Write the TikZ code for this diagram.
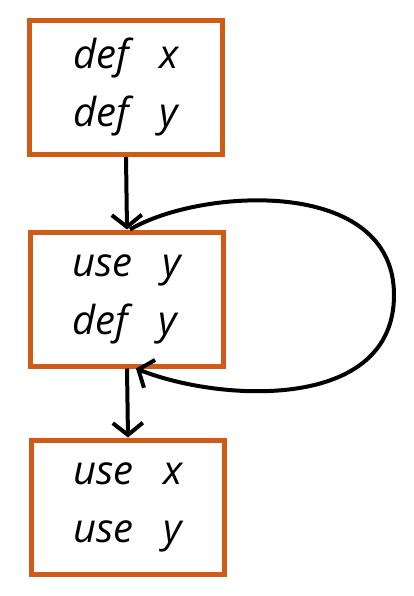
\documentclass[tikz,border=0pt]{standalone}
\usepackage{fontspec}
\setmainfont{Open Sans}
\usetikzlibrary{arrows.meta}
\definecolor{blockorange}{RGB}{206,92,22}
\tikzset{
  blockS/.style ={draw=blockorange, line width=5pt, fill=white, minimum width=193pt, minimum height=134pt,
                  align=left, inner sep=0pt, font=\fontsize{40}{58}\selectfont\itshape},
  edgeS/.style  ={draw=black, line width=4pt, -{Straight Barb[length=12pt,width=30pt,line width=4pt]}},
  loopS/.style  ={draw=black, line width=4pt},
}
\begin{document}
\begin{tikzpicture}[x=1pt,y=-1pt]
  \useasboundingbox (0,0) rectangle (414,596);
  \node[blockS] (defs) at (126,87.5) {def\hspace{0.75em}x\\def\hspace{0.75em}y};
  \node[blockS] (loop) at (127,299)  {use\hspace{0.75em}y\\def\hspace{0.75em}y};
  \node[blockS] (uses) at (128,507)  {use\hspace{0.75em}x\\use\hspace{0.75em}y};
  \draw[edgeS] (defs.south) -- (loop.north);
  \draw[edgeS] (loop.south) -- (uses.north);
  % back edge round the right side
  \coordinate (far) at (394,295);
  \draw[loopS] ([xshift=3pt]loop.north) .. controls (200,188) and (394,176) .. (far);
  \draw[edgeS] (far) .. controls (394,412) and (220,402) .. ([xshift=9pt]loop.south);
\end{tikzpicture}
\end{document}
